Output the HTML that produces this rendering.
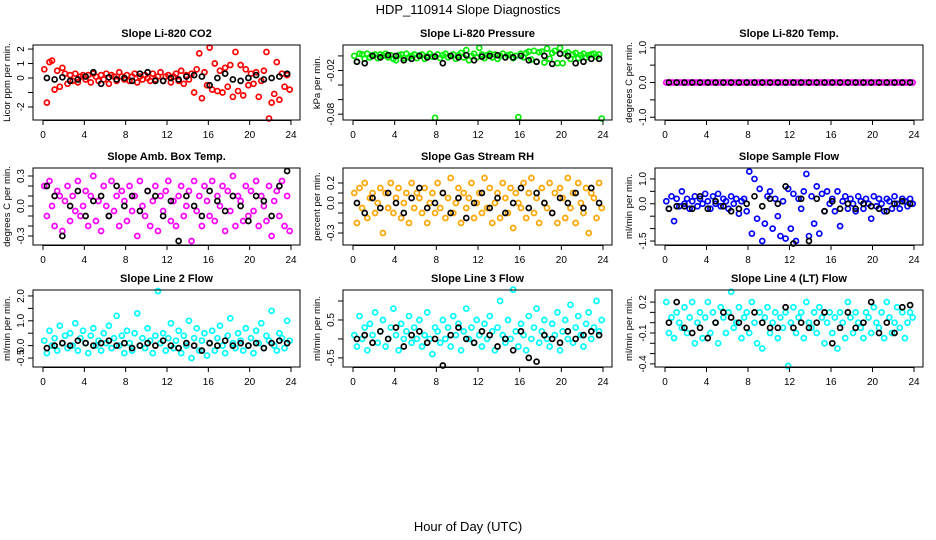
<!DOCTYPE html>
<html><head><meta charset="utf-8"><style>
html,body{margin:0;padding:0;background:#fff;}
svg{display:block;font-family:"Liberation Sans",sans-serif;}
</style></head><body>
<svg id="c" width="936" height="540" viewBox="0 0 936 540">
<text x="468" y="14" text-anchor="middle" font-size="13">HDP_110914  Slope Diagnostics</text>
<text x="468" y="531" text-anchor="middle" font-size="13">Hour of Day (UTC)</text>
</svg>
<script>
const hoursColored = Array.from({length:96},(_, i)=>0.125+i*0.25);
const hoursBlack = Array.from({length:32},(_, i)=>0.375+i*0.75);
const xTicks = [0,4,8,12,16,20,24];
const titles = ["Slope Li-820 CO2","Slope Li-820 Pressure","Slope Li-820 Temp.","Slope Amb. Box Temp.","Slope Gas Stream RH","Slope Sample Flow","Slope Line 2 Flow","Slope Line 3 Flow","Slope Line 4 (LT) Flow"];
const yTitles = ["Licor ppm per min.","kPa per min.","degrees C per min.","degrees C per min.","percent per min.","ml/min per min.","ml/min per min.","ml/min per min.","ml/min per min."];
const colors = ["#ff0000","#00ee00","#ff00ff","#ff00ff","#ffa500","#0000ff","#00ffff","#00ffff","#00ffff"];
const yRanges = [[-2.9,2.28],[-0.088,0.015],[-1.08,1.08],[-0.39,0.38],[-0.42,0.35],[-1.66,1.44],[-0.86,2.24],[-0.74,1.29],[-0.43,0.317]];
const yTicks = [[-2,-1,0,1,2],[-0.08,-0.06,-0.04,-0.02,0],[-1,-0.5,0,0.5,1],[-0.3,-0.2,-0.1,0,0.1,0.2,0.3],[-0.3,-0.2,-0.1,0,0.1,0.2],[-1.5,-1,-0.5,0,0.5,1],[-0.5,0,0.5,1,1.5,2],[-0.5,0,0.5,1],[-0.4,-0.3,-0.2,-0.1,0,0.1,0.2]];
const yTickLabels = [["-2","","0","1","2"],["-0.08","","","-0.02",""],["-1.0","","0.0","","1.0"],["-0.3","","","0.0","","","0.3"],["-0.3","","","0.0","","0.2"],["-1.5","","","0.0","","1.0"],["-0.5","0.0","","1.0","","2.0"],["-0.5","","0.5",""],["-0.4","","","-0.1","","","0.2"]];
const co2Vals=[0.6,-1.7,1.1,1.2,-0.8,0.5,-0.6,0.7,0.3,-0.4,0.2,-0.2,0.3,-0.3,0.1,0.2,-0.1,0.2,-0.3,0.3,0.1,-0.2,0.2,-0.1,0.3,-0.4,0.2,0.1,-0.2,0.4,0.1,-0.1,0.2,-0.2,0.1,0.3,-0.3,0.1,-0.1,0.2,0.0,-0.2,0.3,-0.1,0.1,0.4,-0.2,0.1,0.2,-0.3,0.1,0.3,-0.2,0.5,-0.4,0.2,-0.1,0.3,-1.0,0.6,1.7,-1.4,0.4,-0.5,2.1,-0.8,1.0,-0.9,0.5,-1.0,0.7,-0.6,0.9,-1.3,1.8,-0.9,0.9,-1.2,0.6,-0.5,0.3,-0.4,0.4,-1.3,-0.2,0.5,1.8,-2.8,-1.7,-1.1,1.1,-1.5,0.3,-0.6,0.2,-0.8];
const co2Black=[0.0,-0.1,0.05,-0.2,-0.1,0.1,0.4,-0.4,0.05,-0.1,0.0,-0.2,0.3,0.4,-0.2,-0.2,0.0,-0.1,0.1,0.2,0.1,-0.5,0.0,0.3,-0.1,-0.2,0.0,0.2,-0.1,0.0,0.1,0.3];
const presVals=[0.000,-0.008,0.003,0.002,-0.004,0.003,-0.002,0.001,0.002,-0.003,0.002,0.000,0.003,-0.002,0.001,-0.004,-0.006,0.001,0.002,-0.003,0.003,-0.002,0.000,0.002,-0.003,0.001,0.002,-0.004,0.000,0.003,-0.001,-0.085,0.002,-0.003,0.001,0.003,-0.002,0.000,0.002,-0.004,0.001,0.004,-0.002,0.008,-0.006,0.000,0.003,-0.002,0.011,0.002,-0.003,0.001,0.003,-0.002,0.002,-0.004,0.000,0.003,-0.002,0.001,0.002,-0.003,0.000,-0.084,0.003,-0.002,0.004,0.006,-0.005,0.007,-0.008,0.005,0.006,-0.009,0.010,-0.004,0.004,0.007,-0.010,0.011,-0.010,0.003,0.005,-0.004,0.002,0.004,-0.003,0.001,0.003,-0.002,0.001,0.002,0.003,-0.001,0.002,-0.086];
const presBlack=[-0.008,-0.010,0.000,-0.002,0.001,0.000,-0.006,-0.004,0.000,-0.002,-0.001,-0.010,0.000,-0.002,0.001,-0.006,-0.001,0.000,0.001,-0.002,-0.002,0.000,-0.006,-0.008,0.000,-0.011,0.003,0.000,-0.010,-0.008,-0.004,-0.004];
const tempVals=[0,0,0,0,0,0,0,0,0,0,0,0,0,0,0,0,0,0,0,0,0,0,0,0,0,0,0,0,0,0,0,0,0,0,0,0,0,0,0,0,0,0,0,0,0,0,0,0,0,0,0,0,0,0,0,0,0,0,0,0,0,0,0,0,0,0,0,0,0,0,0,0,0,0,0,0,0,0,0,0,0,0,0,0,0,0,0,0,0,0,0,0,0,0,0,0];
const tempBlack=[0,0,0,0,0,0,0,0,0,0,0,0,0,0,0,0,0,0,0,0,0,0,0,0,0,0,0,0,0,0,0,0];
const ambVals=[0.2,-0.1,0.25,0.0,-0.2,0.15,0.1,-0.25,0.05,0.2,-0.15,0.1,-0.05,0.25,-0.1,0.0,0.15,-0.2,0.1,0.3,-0.15,0.05,-0.25,0.2,0.0,-0.1,0.25,-0.05,0.1,-0.2,0.15,0.05,-0.15,0.2,-0.05,0.1,-0.3,0.25,0.0,-0.1,0.15,-0.2,0.05,0.2,-0.25,0.1,-0.05,0.15,0.25,-0.15,0.05,-0.2,0.1,0.2,-0.1,0.0,0.15,-0.35,0.25,-0.05,0.1,-0.2,0.2,0.05,-0.1,0.25,-0.15,0.1,0.0,0.2,-0.25,0.15,-0.05,0.3,-0.2,0.1,0.05,-0.15,0.2,-0.1,0.15,-0.05,0.25,-0.2,0.1,0.0,-0.15,0.2,-0.3,0.05,0.15,-0.1,0.25,-0.2,0.1,-0.25];
const ambBlack=[0.2,0.1,-0.3,0.0,0.15,-0.1,0.05,0.1,-0.1,0.2,0.0,0.1,-0.05,0.15,0.1,-0.1,0.05,-0.35,0.1,0.0,-0.1,0.15,0.05,-0.05,0.1,0.0,-0.15,0.1,0.05,-0.1,0.2,0.35];
const rhVals=[0.1,-0.2,0.15,-0.05,0.2,-0.15,0.05,0.1,-0.1,0.0,0.15,-0.3,0.1,-0.05,0.2,-0.1,0.05,0.15,-0.15,0.0,0.1,-0.2,0.2,-0.05,0.1,0.05,-0.1,0.15,-0.2,0.0,0.1,-0.1,0.2,-0.05,0.1,-0.15,0.05,0.25,-0.1,0.0,0.15,-0.2,0.1,-0.05,0.05,0.2,-0.15,0.0,0.1,-0.1,0.25,-0.05,0.15,-0.2,0.0,0.1,-0.15,0.2,0.05,-0.1,0.15,-0.25,0.1,0.0,-0.05,0.2,-0.15,0.1,0.25,-0.1,0.05,-0.2,0.15,0.0,-0.05,0.2,-0.1,0.1,-0.2,0.15,0.05,-0.15,0.25,-0.05,0.1,-0.2,0.2,0.0,-0.1,0.15,-0.3,0.1,0.05,-0.15,0.2,-0.05];
const rhBlack=[0.0,-0.1,0.05,-0.05,0.1,0.0,-0.1,0.05,0.15,-0.05,0.0,0.1,-0.1,0.05,-0.15,0.0,0.1,-0.05,0.05,-0.1,0.0,0.15,-0.05,0.1,0.0,-0.1,0.05,0.0,0.1,-0.05,0.15,0.0];
const flowVals=[0.1,-0.2,0.3,-0.7,0.2,-0.1,0.5,0.0,0.2,-0.2,0.1,0.3,-0.1,0.2,0.0,0.4,0.1,-0.2,0.3,0.0,0.4,-0.1,0.2,0.1,-0.2,0.3,0.0,0.2,-0.4,0.1,0.2,-0.3,1.3,-1.2,1.0,-0.6,0.6,-1.5,-0.8,0.3,0.5,-1.0,0.2,-0.5,-1.3,0.1,-1.4,0.6,-1.0,0.4,-1.5,0.2,-0.2,0.5,1.2,-1.3,0.3,-0.8,0.7,-1.2,0.4,-0.3,0.5,0.0,0.2,-0.3,0.5,-0.9,0.1,0.3,-0.2,0.2,0.0,-0.3,0.3,0.1,-0.2,0.2,0.0,-0.6,0.3,-0.1,0.2,0.0,-0.3,0.2,0.1,-0.2,0.3,0.0,-0.2,0.2,0.1,-0.1,0.2,0.0];
const flowBlack=[-0.2,-0.1,-0.1,-0.2,0.3,-0.2,0.1,-0.1,-0.3,-0.2,0.0,0.3,-0.1,0.2,0.0,0.7,-1.6,0.2,-1.5,0.2,-0.3,0.1,-0.2,0.0,-0.2,0.0,-0.1,-0.2,-0.3,0.0,0.1,0.0];
const line2Vals=[0.2,-0.3,0.6,0.0,0.3,-0.2,0.8,0.1,0.4,-0.1,0.5,0.0,0.9,-0.2,0.3,0.6,0.1,-0.3,0.4,0.7,0.0,0.2,-0.2,0.5,0.1,0.8,-0.1,0.3,1.2,0.0,0.4,-0.3,0.6,0.1,-0.2,0.5,1.3,0.0,0.3,-0.1,0.7,0.2,-0.3,0.4,2.2,0.1,0.5,-0.2,0.3,0.9,-0.1,0.2,0.6,-0.3,0.4,0.0,1.0,-0.5,0.3,0.7,-0.2,0.2,0.5,-0.4,0.1,0.6,-0.2,0.3,0.8,0.0,-0.3,0.4,1.1,0.1,-0.1,0.5,0.2,-0.2,0.7,0.0,0.3,-0.3,0.6,0.1,0.9,-0.1,0.4,0.2,1.4,0.0,-0.2,0.5,0.3,-0.1,1.0,0.2];
const line2Black=[-0.1,0.0,0.1,0.0,0.2,0.1,0.0,0.1,0.2,0.0,0.1,-0.1,0.0,0.1,0.0,0.2,0.0,-0.1,0.1,0.0,-0.2,0.1,0.0,0.2,0.0,0.1,0.0,0.1,-0.1,0.1,0.2,0.1];
const line3Vals=[0.1,-0.2,0.6,0.0,0.3,-0.3,0.4,0.1,0.7,-0.1,0.2,0.5,-0.2,0.0,0.3,0.8,0.1,-0.3,0.4,0.0,0.2,0.6,-0.1,0.3,0.0,0.5,-0.2,0.1,0.7,0.0,-0.4,0.3,0.2,-0.1,0.5,0.0,0.3,-0.2,0.6,0.1,0.4,-0.3,0.2,0.8,0.0,0.3,-0.1,0.5,0.1,-0.2,0.4,0.0,0.6,0.2,-0.3,0.3,1.0,0.1,-0.1,0.5,0.0,1.3,0.2,-0.2,0.4,0.1,-0.3,0.6,0.0,0.3,0.8,-0.1,0.2,0.5,0.0,-0.2,0.4,0.1,0.7,-0.3,0.2,0.5,0.0,0.9,-0.1,0.3,0.6,0.1,-0.2,0.4,0.7,0.0,0.3,1.0,0.2,0.5];
const line3Black=[0.0,0.1,-0.1,0.2,0.0,0.3,-0.2,0.1,0.2,-0.1,0.0,-0.7,0.1,0.3,0.0,-0.1,0.2,0.1,-0.2,0.0,-0.3,0.2,-0.5,-0.6,0.1,0.0,-0.1,0.2,0.0,0.1,0.2,0.1];
const line4Vals=[0.2,-0.1,0.05,-0.15,0.1,0.0,-0.05,0.15,-0.1,0.05,0.2,-0.2,0.0,0.1,-0.15,0.05,0.2,-0.1,0.1,0.0,-0.2,0.15,0.05,-0.1,0.1,0.3,-0.05,0.0,0.15,-0.15,0.05,0.1,-0.1,0.2,0.0,-0.2,0.1,-0.25,0.05,0.15,-0.1,0.0,0.1,-0.15,0.05,-0.05,0.1,-0.42,0.0,0.15,-0.1,0.05,0.1,-0.15,0.2,0.0,-0.05,0.1,-0.1,0.15,0.05,-0.2,0.0,0.1,-0.1,0.05,-0.25,0.1,0.0,-0.15,0.2,0.05,-0.1,0.1,0.0,-0.05,-0.15,0.1,0.05,-0.1,0.15,0.0,-0.05,0.1,-0.15,0.2,0.05,-0.1,0.0,0.15,-0.05,0.1,-0.15,0.0,0.1,0.05];
const line4Black=[0.0,0.2,-0.05,-0.1,-0.05,-0.15,0.0,0.1,0.05,0.0,-0.05,0.1,0.0,-0.05,-0.05,0.15,-0.05,0.0,-0.05,0.0,0.1,-0.2,-0.05,0.1,-0.05,0.0,0.2,-0.1,0.0,-0.1,0.15,0.17];
const coloredSeries=[co2Vals,presVals,tempVals,ambVals,rhVals,flowVals,line2Vals,line3Vals,line4Vals];
const blackSeries=[co2Black,presBlack,tempBlack,ambBlack,rhBlack,flowBlack,line2Black,line3Black,line4Black];

const NS="http://www.w3.org/2000/svg";
const svg=document.getElementById('c');
const colL=[33,343,655], colR=[300,612,923], rowT=[45,168,290], rowB=[120,245,367];
function mk(tag,attrs,parent){const e=document.createElementNS(NS,tag);for(const k in attrs)e.setAttribute(k,attrs[k]);parent.appendChild(e);return e;}
for(let p=0;p<9;p++){
  const L=colL[p%3],R=colR[p%3],T=rowT[Math.floor(p/3)],B=rowB[Math.floor(p/3)];
  const g=mk('g',{},svg);
  
  
  const xS=h=>L+10+h*(R-9-(L+10))/24;
  const [y0,y1]=yRanges[p];
  const yS=v=>B-(v-y0)/(y1-y0)*(B-T);
  const t=mk('text',{x:(L+R)/2,y:T-8,'text-anchor':'middle','font-size':11,'font-weight':'bold'},g);
  t.textContent=titles[p];
  
  
  const cs=coloredSeries[p];
  cs.forEach((v,i)=>{
    const c=mk('circle',{cx:xS(hoursColored[i]),cy:yS(v),r:2.5,fill:'none',stroke:colors[p],'stroke-width':1.7},g);
    
    
  });
  blackSeries[p].forEach((v,i)=>{
    const c=mk('circle',{cx:xS(hoursBlack[i]),cy:yS(v),r:2.5,fill:'none',stroke:'#000','stroke-width':1.7},g);
    
    
  });
  const box=mk('rect',{x:L,y:T,width:R-L,height:B-T,fill:'none',stroke:'#000','stroke-width':1},g);
  
  
  mk('line',{x1:xS(0),x2:xS(24),y1:B+0.5,y2:B+0.5,stroke:'#000'},g);
  xTicks.forEach(h=>{
    mk('line',{x1:xS(h),x2:xS(h),y1:B,y2:B+5,stroke:'#000'},g);
    const tl=mk('text',{x:xS(h),y:B+18,'text-anchor':'middle','font-size':10},g);
    tl.textContent=h;
    
    
  });
  yTicks[p].forEach((v,i)=>{
    const y=yS(v);
    mk('line',{x1:L-5,x2:L,y1:y,y2:y,stroke:'#000'},g);
    const lab=yTickLabels[p][i];
    if(lab){
      const tl=mk('text',{x:L-9,y:y,'text-anchor':'middle','font-size':10,transform:`rotate(-90 ${L-9} ${y})`},g);
      tl.textContent=lab;
      
      
    }
  });
  const yt=mk('text',{x:L-23,y:(T+B)/2,'text-anchor':'middle','font-size':9.5,transform:`rotate(-90 ${L-23} ${(T+B)/2})`},g);
  yt.textContent=yTitles[p];
  
  
}
</script>
</body></html>
